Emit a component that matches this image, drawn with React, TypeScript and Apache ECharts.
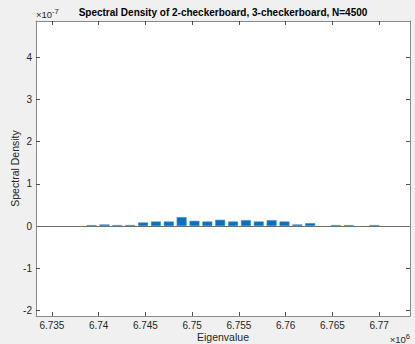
import React, { useEffect, useRef } from "react";
import * as echarts from "echarts";

// Eigenvalue bin centers (units of 1e6)
const binCenters = [
  6.73925, 6.740625, 6.742, 6.743375, 6.74475, 6.746125, 6.7475, 6.748875,
  6.75025, 6.751625, 6.753, 6.754375, 6.75575, 6.757125, 6.7585, 6.759875,
  6.76125, 6.762625, 6.765375, 6.76675, 6.7695,
];
// Spectral density values (units of 1e-7)
const density = [
  0.025, 0.04, 0.025, 0.025, 0.087, 0.11, 0.11, 0.213, 0.126, 0.11, 0.15, 0.11,
  0.142, 0.11, 0.142, 0.11, 0.04, 0.071, 0.025, 0.025, 0.025,
];
const xTicks = [6.735, 6.74, 6.745, 6.75, 6.755, 6.76, 6.765, 6.77];
const yTicks = [-2, -1, 0, 1, 2, 3, 4];
const xRange = [6.7333, 6.7733];
const yRange = [-2.13, 4.86];

const titleText = "Spectral Density of 2-checkerboard, 3-checkerboard, N=4500";
const FONT = "Liberation Sans, Arial, Helvetica, sans-serif";
const AX = "#262626";
const BORDER = "#8a8a8a";

export default function App() {
  const ref = useRef<HTMLDivElement>(null);
  useEffect(() => {
    if (!ref.current) return;
    const chart = echarts.init(ref.current, undefined, { renderer: "svg" });
    const gridL = 36, gridT = 21, gridW = 374, gridH = 295;
    const tickCommon = { show: true, inside: true, length: 4, lineStyle: { color: AX, width: 0.8 } };
    chart.setOption({
      animation: false,
      backgroundColor: "#f0f0f0",
      textStyle: { fontFamily: FONT },
      grid: {
        left: gridL, top: gridT, width: gridW, height: gridH,
        show: true, backgroundColor: "#ffffff", borderWidth: 0,
        containLabel: false, outerBoundsMode: "none",
      },
      xAxis: [
        {
          type: "value", position: "bottom", min: xRange[0], max: xRange[1],
          axisLine: { show: true, onZero: false, lineStyle: { color: BORDER, width: 1 } },
          axisTick: { ...tickCommon, customValues: xTicks },
          axisLabel: {
            show: true, customValues: xTicks, color: AX, fontSize: 10, margin: 4,
            fontFamily: FONT, formatter: (v: number) => String(+v.toFixed(3)),
          },
          splitLine: { show: false },
          name: "Eigenvalue", nameLocation: "middle", nameGap: 15, nameMoveOverlap: false,
          nameTextStyle: { color: AX, fontSize: 10.5, fontFamily: FONT, lineHeight: 12 },
        },
        {
          type: "value", position: "top", min: xRange[0], max: xRange[1],
          axisLine: { show: true, onZero: false, lineStyle: { color: BORDER, width: 1 } },
          axisTick: { ...tickCommon, customValues: xTicks },
          axisLabel: { show: false },
          splitLine: { show: false },
        },
      ],
      yAxis: [
        {
          type: "value", position: "left", min: yRange[0], max: yRange[1],
          axisLine: { show: true, onZero: false, lineStyle: { color: BORDER, width: 1 } },
          axisTick: { ...tickCommon, customValues: yTicks },
          axisLabel: {
            show: true, customValues: yTicks, color: AX, fontSize: 10, margin: 4,
            fontFamily: FONT, formatter: (v: number) => String(Math.round(v)),
          },
          splitLine: { show: false },
          name: "Spectral Density", nameLocation: "middle", nameGap: 15, nameMoveOverlap: false,
          nameTextStyle: { color: AX, fontSize: 10.5, fontFamily: FONT, lineHeight: 12 },
        },
        {
          type: "value", position: "right", min: yRange[0], max: yRange[1],
          axisLine: { show: true, onZero: false, lineStyle: { color: BORDER, width: 1 } },
          axisTick: { ...tickCommon, customValues: yTicks },
          axisLabel: { show: false },
          splitLine: { show: false },
        },
      ],
      series: [
        {
          type: "bar",
          xAxisIndex: 0,
          yAxisIndex: 0,
          barWidth: 10,
          data: binCenters.map((x, i) => [x, density[i]]),
          itemStyle: { color: "#0a6fbd", borderColor: "#4a93cf", borderWidth: 0.6 },
          silent: true,
          markLine: {
            silent: true,
            symbol: "none",
            label: { show: false },
            lineStyle: { color: "#6e6e6e", width: 1, type: "solid" },
            data: [{ yAxis: 0 }],
          },
        },
      ],
      graphic: [
        {
          type: "text", x: gridL + gridW / 2, y: 12,
          style: {
            text: titleText, fill: "#000", font: `bold 10px ${FONT}`,
            textAlign: "center", textVerticalAlign: "middle",
          },
        },
        {
          type: "text", x: gridL, y: 14,
          style: {
            text: "×10{s|-7}", fill: AX, font: `9.5px ${FONT}`,
            textAlign: "left", textVerticalAlign: "middle",
            rich: { s: { fontSize: 7.5, verticalAlign: "top", padding: [0, 0, 6, 0], fill: AX } },
          },
        },
        {
          type: "text", x: 410, y: 339,
          style: {
            text: "×10{s|6}", fill: AX, font: `9.5px ${FONT}`,
            textAlign: "right", textVerticalAlign: "middle",
            rich: { s: { fontSize: 7.5, verticalAlign: "top", padding: [0, 0, 6, 0], fill: AX } },
          },
        },
      ],
    });
    return () => chart.dispose();
  }, []);
  return (
    <div
      ref={ref}
      style={{ position: "fixed", left: 0, top: 0, width: 415, height: 344 }}
    />
  );
}
